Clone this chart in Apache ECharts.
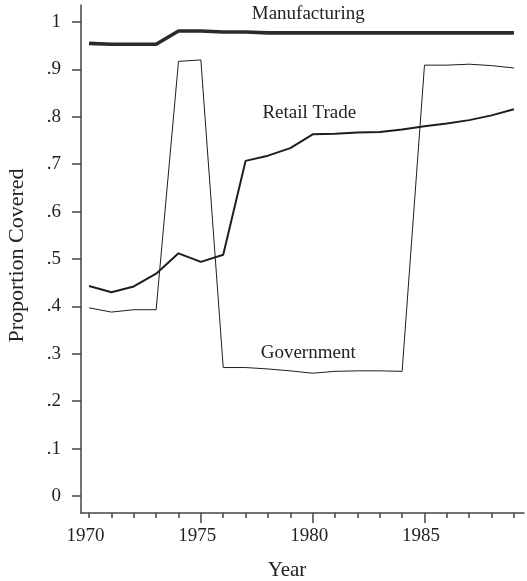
<!DOCTYPE html>
<html>
<head>
<meta charset="utf-8">
<script src="https://cdn.jsdelivr.net/npm/echarts@6/dist/echarts.min.js"></script>
<style>
  html, body { margin: 0; padding: 0; background: #fff; }
  #coverage { width: 527px; height: 581px; }
</style>
</head>
<body>
<div id="coverage"></div>
<script>
// data
var years = [1970, 1971, 1972, 1973, 1974, 1975, 1976, 1977, 1978, 1979,
             1980, 1981, 1982, 1983, 1984, 1985, 1986, 1987, 1988, 1989];
var manufacturing = [0.955, 0.953, 0.953, 0.953, 0.981, 0.981, 0.979, 0.979, 0.977, 0.977,
                     0.977, 0.977, 0.977, 0.977, 0.977, 0.977, 0.977, 0.977, 0.977, 0.977];
var retailTrade = [0.443, 0.430, 0.442, 0.469, 0.512, 0.494, 0.509, 0.707, 0.718, 0.734,
                   0.763, 0.764, 0.767, 0.768, 0.773, 0.780, 0.786, 0.793, 0.803, 0.816];
var government = [0.397, 0.388, 0.393, 0.393, 0.917, 0.920, 0.271, 0.271, 0.268, 0.264,
                  0.259, 0.263, 0.264, 0.264, 0.263, 0.909, 0.909, 0.911, 0.908, 0.903];
var yTicks = [0, 0.1, 0.2, 0.3, 0.4, 0.5, 0.6, 0.7, 0.8, 0.9, 1];
var xMajorTicks = [1975, 1980, 1985];
var xLabels = [1970, 1975, 1980, 1985];

var font = 'Liberation Serif';
var ink = '#222';

function pairs(vals) {
  var arr = [];
  for (var i = 0; i < years.length; i++) {
    arr.push([years[i], vals[i]]);
  }
  return arr;
}

// series name sits inside the plot as a text note (data coords)
function note(name, x, y) {
  return {
    silent: true,
    symbol: 'circle',
    symbolSize: 1,
    itemStyle: { color: 'rgba(0,0,0,0)' },
    label: { show: true, formatter: name, position: 'inside',
             fontFamily: font, fontSize: 19, color: ink },
    data: [{ coord: [x, y] }]
  };
}

var axisLineStyle = { color: '#444', width: 1.5 };

var option = {
  animation: false,
  backgroundColor: '#fff',
  grid: { left: 81, right: 3, top: 5, bottom: 68, outerBoundsMode: 'none' },
  xAxis: [{
    type: 'value',
    min: 1969.64, max: 1989.45,
    axisLine: { show: true, onZero: false, lineStyle: axisLineStyle },
    splitLine: { show: false },
    axisTick: { show: true, length: 5, customValues: years, lineStyle: axisLineStyle },
    axisLabel: { customValues: xLabels, margin: 14, fontFamily: font, fontSize: 19,
                 color: ink, padding: [0, 7, 0, 0],
                 formatter: function (v) { return String(v); } },
    name: 'Year', nameLocation: 'middle', nameGap: 47,
    nameTextStyle: { fontFamily: font, fontSize: 21, color: ink, padding: [0, 31, 0, 0] }
  }, {
    // longer ticks every five years
    type: 'value',
    position: 'bottom',
    min: 1969.64, max: 1989.45,
    axisLine: { show: false, onZero: false },
    splitLine: { show: false },
    axisLabel: { show: false },
    axisTick: { show: true, length: 10, customValues: xMajorTicks, lineStyle: axisLineStyle }
  }],
  yAxis: {
    type: 'value',
    min: -0.0359, max: 1.0359,
    axisLine: { show: true, onZero: false, lineStyle: axisLineStyle },
    splitLine: { show: false },
    axisTick: { show: true, length: 9, customValues: yTicks, lineStyle: axisLineStyle },
    axisLabel: {
      customValues: yTicks, margin: 20, fontFamily: font, fontSize: 19, color: ink,
      formatter: function (v) {
        if (v === 0) return '0';
        if (v === 1) return '1';
        return v.toFixed(1).replace(/^0/, '');
      }
    },
    name: 'Proportion Covered', nameLocation: 'middle', nameGap: 53,
    nameTextStyle: { fontFamily: font, fontSize: 22, color: ink, padding: [0, 0, 0, 7] }
  },
  series: [{
    name: 'Manufacturing',
    type: 'line',
    data: pairs(manufacturing),
    showSymbol: false,
    lineStyle: { color: '#2b2b2b', width: 3.6 },
    markPoint: note('Manufacturing', 1979.8, 1.016)
  }, {
    name: 'Retail Trade',
    type: 'line',
    data: pairs(retailTrade),
    showSymbol: false,
    lineStyle: { color: '#1e1e1e', width: 2 },
    markPoint: note('Retail Trade', 1979.85, 0.808)
  }, {
    name: 'Government',
    type: 'line',
    data: pairs(government),
    showSymbol: false,
    lineStyle: { color: '#1e1e1e', width: 1 },
    markPoint: note('Government', 1979.8, 0.302)
  }]
};

var myChart = echarts.init(document.getElementById('coverage'));
myChart.setOption(option);
</script>
</body>
</html>
